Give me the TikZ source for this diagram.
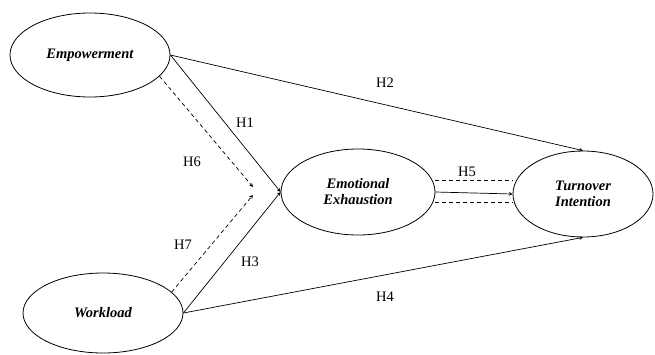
\documentclass[tikz,border=0pt]{standalone}
\usepackage{fontspec}
\setmainfont{Liberation Serif}
\usetikzlibrary{shapes.geometric}

\begin{document}
\begin{tikzpicture}[x=1pt,y=-1pt,>=stealth,line width=0.7pt,
  construct/.style={ellipse,draw,line width=0.8pt,font=\fontsize{14.5}{16}\selectfont\bfseries\itshape,align=center,inner sep=0pt},
  hyp/.style={font=\fontsize{14.5}{16}\selectfont},
  med/.style={dashed,dash pattern=on 4pt off 3pt}]
  \useasboundingbox (0,0) rectangle (655,354);
  % constructs
  \node [construct,minimum width=160,minimum height=84] (emp) at (90,55) {Empowerment};
  \node [construct,minimum width=160,minimum height=80] (wl) at (103,313) {Workload};
  \node [construct,minimum width=154,minimum height=86] (ee) at (358,192) {Emotional\\Exhaustion};
  \node [construct,minimum width=140,minimum height=86] (ti) at (583,194) {Turnover\\Intention};
  % end points of the moderation arrows
  \coordinate (m6) at (253,187);
  \coordinate (m7) at (253,195);
  % direct paths
  \draw [->] (emp.east) -- (ti.north);
  \draw [->] (wl.east) -- (ti.south);
  % paths into exhaustion
  \draw [->] (emp.east) -- (ee.west);
  \draw [->] (wl.east) -- (ee.west);
  % moderation (dashed)
  \draw [->,med] (emp.-17) -- (m6);
  \draw [->,med] (wl.17) -- (m7);
  % exhaustion to turnover
  \draw [->] (ee.east) -- (ti.west);
  \draw [med] ([yshift=-10]ee.east) -- ([yshift=-10]ee.east -| ti.west);
  \draw [med] ([yshift=12]ee.east) -- ([yshift=12]ee.east -| ti.west);
  % labels
  \node [hyp] (h1) at (245,123) {H1};
  \node [hyp] (h2) at (385,83) {H2};
  \node [hyp] (h3) at (250,262) {H3};
  \node [hyp] (h4) at (385,297) {H4};
  \node [hyp] (h5) at (467,172) {H5};
  \node [hyp] (h6) at (192,162) {H6};
  \node [hyp] (h7) at (183,245) {H7};
\end{tikzpicture}
\end{document}
